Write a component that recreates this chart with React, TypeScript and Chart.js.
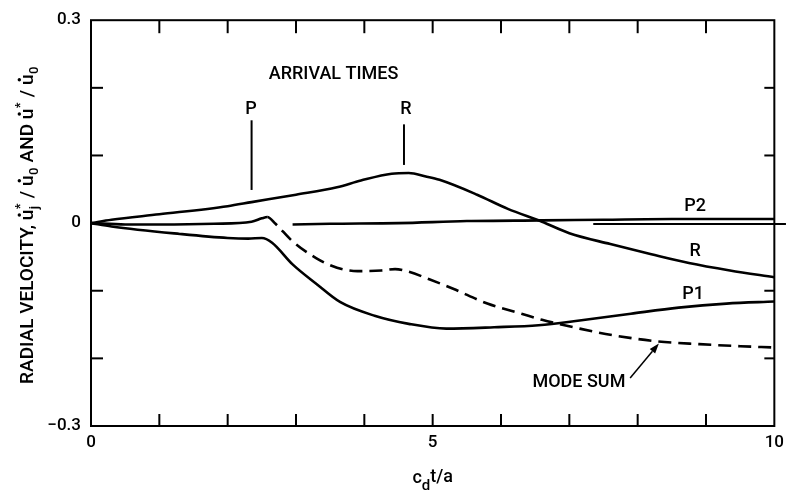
import React, { useEffect, useRef } from "react";
import { Chart, registerables } from "chart.js";
Chart.register(...registerables);

// ---- data ----
const R_X = [0, 0.3, 1.0, 2.0, 2.35, 3.0, 3.6, 3.95, 4.4, 4.65, 4.9, 5.1, 5.65, 6.1, 6.6, 7.0, 7.6, 8.2, 8.75, 9.35, 10];
const R_Y = [0, 0.005, 0.013, 0.025, 0.031, 0.042, 0.053, 0.063, 0.073, 0.074, 0.069, 0.064, 0.042, 0.021, 0.002, -0.015, -0.031, -0.046, -0.059, -0.070, -0.080];

const P1_X = [0, 0.3, 1.3, 2.0, 2.3, 2.5, 2.65, 2.95, 3.3, 3.65, 4.15, 4.65, 5.2, 5.9, 6.55, 7.15, 7.9, 8.6, 9.3, 10];
const P1_Y = [0, -0.005, -0.016, -0.022, -0.023, -0.022, -0.029, -0.061, -0.090, -0.117, -0.137, -0.149, -0.156, -0.154, -0.151, -0.144, -0.134, -0.125, -0.119, -0.116];

const P2_X = [2.95, 3.5, 4.5, 5.5, 6.6, 7.5, 8.5, 10];
const P2_Y = [-0.002, -0.001, 0.0, 0.003, 0.004, 0.005, 0.006, 0.006];

const SUM_X = [0, 0.5, 1.0, 1.8, 2.35, 2.5, 2.58, 2.7, 2.95, 3.3, 3.6, 3.9, 4.25, 4.45, 4.65, 4.95, 5.3, 5.8, 6.3, 6.6, 7.15, 7.65, 8.3, 8.9, 9.5, 10];
const SUM_Y = [0, -0.002, -0.002, -0.001, 0.002, 0.007, 0.009, -0.001, -0.027, -0.052, -0.066, -0.071, -0.070, -0.068, -0.072, -0.083, -0.097, -0.119, -0.134, -0.143, -0.156, -0.166, -0.175, -0.179, -0.182, -0.184];
const SUM_DASH_FROM = 2.58;

const ZERO_X = [7.35, 10.17];
const ZERO_Y = [-0.0015, -0.0015];

const X_MIN = 0, X_MAX = 10, Y_MIN = -0.3, Y_MAX = 0.3;
const X_TICK_MARKS = [1, 2, 3, 4, 5, 6, 7, 8, 9];
const Y_TICK_MARKS = [-0.2, -0.1, 0.1, 0.2];
const X_LABEL_VALUES = [0, 5, 10];
const X_LABEL_TEXT = ["0", "5", "10"];
const Y_LABEL_VALUES = [-0.3, 0, 0.3];
const Y_LABEL_TEXT = ["\u22120.3", "0", "0.3"];

// arrival-time markers: [x, yTop, yBottom]
const ARRIVAL_MARKS = [
  [2.35, 0.152, 0.049],
  [4.58, 0.146, 0.086],
];
// text annotations (x centre, y baseline)
const NOTE_TEXT = ["ARRIVAL TIMES", "P", "R", "P2", "R", "P1", "MODE SUM"];
const NOTE_X = [3.55, 2.34, 4.61, 8.84, 8.84, 8.81, 7.14];
const NOTE_Y = [0.213, 0.162, 0.162, 0.018, -0.048, -0.112, -0.242];
// arrow from label to mode-sum curve: [x0, y0, x1, y1]
const ARROW = [7.89, -0.229, 8.31, -0.178];

const FONT = "Roboto, 'Liberation Sans', Arial, sans-serif";
const WEIGHT = 500;

function pts(xs: number[], ys: number[]) {
  return xs.map((x, i) => ({ x, y: ys[i] }));
}

function labelFor(v: number, vals: number[], texts: string[]) {
  for (let i = 0; i < vals.length; i++) if (Math.abs(vals[i] - v) < 1e-6) return texts[i];
  return "";
}

const annotPlugin = {
  id: "annot",
  afterDraw(chart: any) {
    const { ctx, chartArea: ca, scales } = chart;
    const xs = scales.x, ys = scales.y;
    const px = (v: number) => xs.getPixelForValue(v);
    const py = (v: number) => ys.getPixelForValue(v);
    const line = (x0: number, y0: number, x1: number, y1: number) => {
      ctx.beginPath();
      ctx.moveTo(x0, y0);
      ctx.lineTo(x1, y1);
      ctx.stroke();
    };
    ctx.save();
    ctx.strokeStyle = "#000";
    ctx.fillStyle = "#000";
    ctx.lineCap = "butt";
    // frame
    ctx.lineWidth = 2;
    ctx.strokeRect(ca.left, ca.top, ca.right - ca.left, ca.bottom - ca.top);
    // inward ticks
    X_TICK_MARKS.forEach((v) => {
      const x = px(v);
      line(x, ca.bottom, x, ca.bottom - 12);
      line(x, ca.top, x, ca.top + 13);
    });
    Y_TICK_MARKS.forEach((v) => {
      const y = py(v);
      line(ca.left, y, ca.left + 12, y);
      line(ca.right, y, ca.right - 10, y);
    });
    // arrival marks
    ctx.lineWidth = 2;
    ARRIVAL_MARKS.forEach(([x, a, b]) => line(px(x), py(a), px(x), py(b)));
    // notes
    ctx.font = `${WEIGHT} 18px ${FONT}`;
    ctx.textAlign = "center";
    ctx.textBaseline = "alphabetic";
    NOTE_TEXT.forEach((t, i) => ctx.fillText(t, px(NOTE_X[i]), py(NOTE_Y[i])));
    // arrow
    const ax0 = px(ARROW[0]), ay0 = py(ARROW[1]), ax1 = px(ARROW[2]), ay1 = py(ARROW[3]);
    ctx.lineWidth = 1.5;
    const ang = Math.atan2(ay1 - ay0, ax1 - ax0);
    const hl = 10, hw = 3.5;
    const bx = ax1 - hl * Math.cos(ang), by = ay1 - hl * Math.sin(ang);
    line(ax0, ay0, bx, by);
    ctx.beginPath();
    ctx.moveTo(ax1, ay1);
    ctx.lineTo(bx + hw * Math.sin(ang), by - hw * Math.cos(ang));
    ctx.lineTo(bx - hw * Math.sin(ang), by + hw * Math.cos(ang));
    ctx.closePath();
    ctx.fill();

    // x title: c_d t/a
    {
      const big = `${WEIGHT} 18px ${FONT}`, small = `${WEIGHT} 15px ${FONT}`;
      ctx.textAlign = "left";
      ctx.font = big;
      const wc = ctx.measureText("c").width;
      const wt = ctx.measureText("t/a").width;
      ctx.font = small;
      const wd = ctx.measureText("d").width;
      const total = wc + wd + wt;
      let x = (ca.left + ca.right) / 2 - total / 2;
      const base = 483;
      ctx.font = big;
      ctx.fillText("c", x, base);
      x += wc;
      ctx.font = small;
      ctx.fillText("d", x, base + 7);
      x += wd;
      ctx.font = big;
      ctx.fillText("t/a", x, base - 1);
    }

    // y title (rotated)
    {
      const bigSize = 19, smallSize = 13;
      const big = `${WEIGHT} ${bigSize}px ${FONT}`, small = `${WEIGHT} ${smallSize}px ${FONT}`;
      const parts: any[] = [
        { t: "RADIAL VELOCITY, " },
        { t: "u", dot: true },
        { sup: "*", sub: "j" },
        { t: " / " },
        { t: "u", dot: true },
        { sub: "0" },
        { t: " AND " },
        { t: "u", dot: true },
        { sup: "*" },
        { t: " / " },
        { t: "u", dot: true },
        { sub: "0" },
      ];
      const widths = parts.map((p) => {
        if (p.t) {
          ctx.font = big;
          return ctx.measureText(p.t).width;
        }
        ctx.font = small;
        return Math.max(p.sup ? ctx.measureText(p.sup).width : 0, p.sub ? ctx.measureText(p.sub).width : 0) + 1;
      });
      const total = widths.reduce((a, b) => a + b, 0);
      ctx.translate(33, 225);
      ctx.rotate(-Math.PI / 2);
      let x = -total / 2;
      ctx.textAlign = "left";
      parts.forEach((p, i) => {
        if (p.t) {
          ctx.font = big;
          ctx.fillText(p.t, x, 0);
          if (p.dot) {
            ctx.beginPath();
            ctx.arc(x + widths[i] / 2, -bigSize * 0.72, 1.7, 0, Math.PI * 2);
            ctx.fill();
          }
        } else {
          ctx.font = small;
          if (p.sup) ctx.fillText(p.sup, x + 0.5, -bigSize * 0.5);
          if (p.sub) ctx.fillText(p.sub, x + 0.5, bigSize * 0.25);
        }
        x += widths[i];
      });
    }
    ctx.restore();
  },
};

export default function App() {
  const ref = useRef<HTMLCanvasElement>(null);
  useEffect(() => {
    const common = {
      borderColor: "#000",
      backgroundColor: "#000",
      borderWidth: 2.6,
      pointRadius: 0,
      fill: false,
      cubicInterpolationMode: "monotone" as const,
    };
    const chart = new Chart(ref.current!, {
      type: "line",
      data: {
        datasets: [
          { ...common, label: "R", data: pts(R_X, R_Y) },
          { ...common, label: "P1", data: pts(P1_X, P1_Y) },
          { ...common, label: "P2", data: pts(P2_X, P2_Y) },
          {
            ...common,
            label: "MODE SUM",
            data: pts(SUM_X, SUM_Y),
            segment: {
              borderDash: (c: any) => (c.p0.parsed.x >= SUM_DASH_FROM ? [13, 7] : undefined),
            },
          },
          { ...common, label: "zero", borderWidth: 2, data: pts(ZERO_X, ZERO_Y), clip: false as any },
        ],
      },
      options: {
        responsive: false,
        animation: false,
        layout: { padding: { top: 17, right: 12, left: 0, bottom: 0 } },
        plugins: { legend: { display: false }, tooltip: { enabled: false } },
        scales: {
          x: {
            type: "linear",
            min: X_MIN,
            max: X_MAX,
            afterFit: (s: any) => {
              s.height = 68;
            },
            grid: { display: false, drawTicks: false },
            border: { display: false },
            ticks: {
              stepSize: 1,
              autoSkip: false,
              maxRotation: 0,
              padding: 7,
              color: "#000",
              font: { family: FONT, size: 17, weight: WEIGHT },
              callback: (v: any) => labelFor(Number(v), X_LABEL_VALUES, X_LABEL_TEXT),
            },
          },
          y: {
            type: "linear",
            min: Y_MIN,
            max: Y_MAX,
            afterFit: (s: any) => {
              s.width = 91;
            },
            grid: { display: false, drawTicks: false },
            border: { display: false },
            ticks: {
              stepSize: 0.1,
              autoSkip: false,
              padding: 10,
              color: "#000",
              font: { family: FONT, size: 17, weight: WEIGHT },
              callback: (v: any) => labelFor(Number(v), Y_LABEL_VALUES, Y_LABEL_TEXT),
            },
          },
        },
      } as any,
      plugins: [annotPlugin],
    });
    return () => chart.destroy();
  }, []);
  return (
    <div style={{ position: "fixed", left: 0, top: 0, width: 791, height: 494, background: "#fff" }}>
      <canvas ref={ref} width={791} height={494} style={{ width: 791, height: 494, display: "block" }} />
    </div>
  );
}
